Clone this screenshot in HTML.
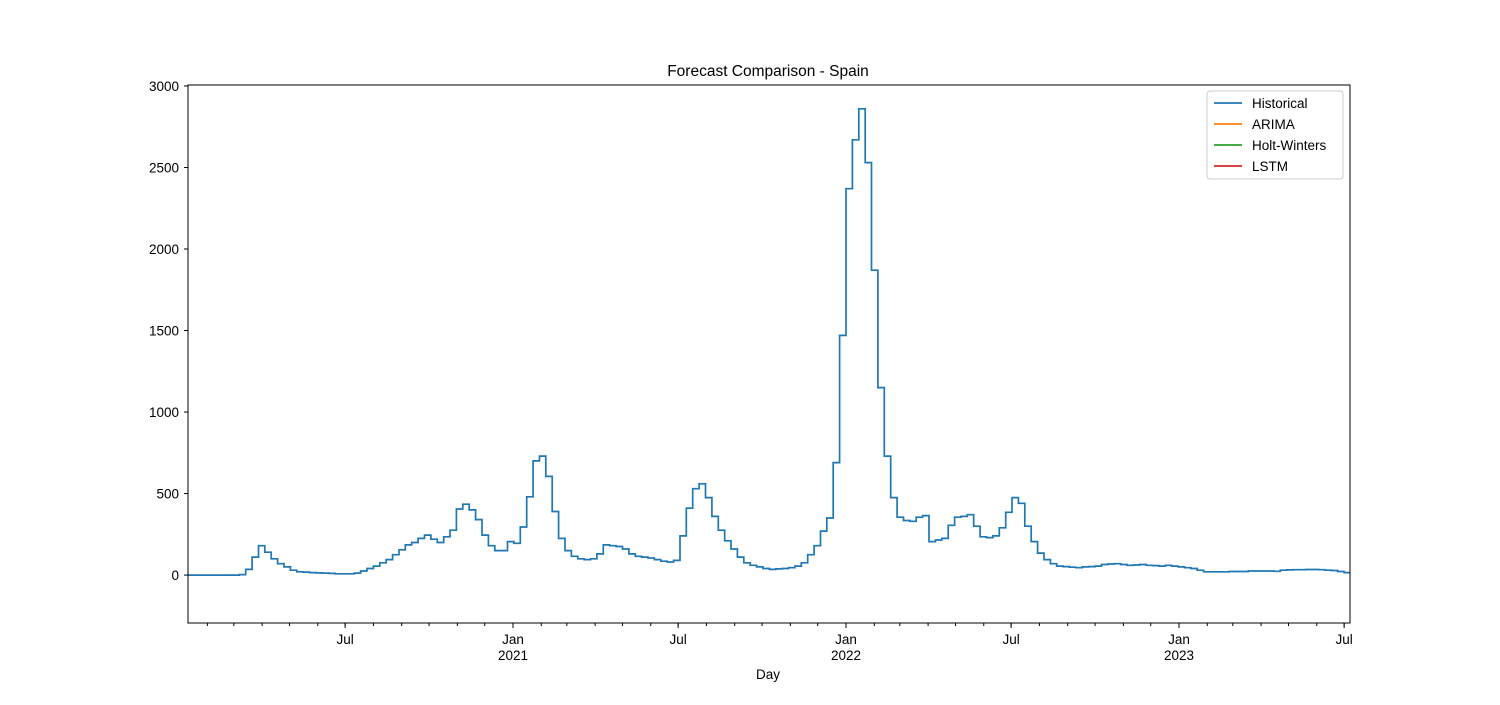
<!DOCTYPE html>
<html><head><meta charset="utf-8"><style>
body{margin:0;background:#fff;}
text{font-family:"Liberation Sans","DejaVu Sans",sans-serif;font-size:13.5px;fill:#000;}
</style></head><body>
<svg id="chart" width="1500" height="700">
<text x="768" y="76" text-anchor="middle" font-size="15.5" style="font-size:15.5px">Forecast Comparison - Spain</text>
<g id="yaxis"></g>
<g id="xaxis"></g>
<path id="hist" fill="none" stroke="#1f77b4" stroke-width="1.7"></path>
<rect x="188" y="85" width="1162" height="538" fill="none" stroke="#000" stroke-width="1"></rect>
<text x="768" y="679" text-anchor="middle">Day</text>
<g>
<rect x="1207" y="91" width="136" height="88" rx="3" fill="#fff" stroke="#ccc"></rect>
<line x1="1214" x2="1242" y1="103" y2="103" stroke="#1f77b4" stroke-width="1.8"></line>
<text x="1252" y="108">Historical</text>
<line x1="1214" x2="1242" y1="124" y2="124" stroke="#ff7f0e" stroke-width="1.8"></line>
<text x="1252" y="129">ARIMA</text>
<line x1="1214" x2="1242" y1="145" y2="145" stroke="#2ca02c" stroke-width="1.8"></line>
<text x="1252" y="150">Holt-Winters</text>
<line x1="1214" x2="1242" y1="166" y2="166" stroke="#d62728" stroke-width="1.8"></line>
<text x="1252" y="171">LSTM</text>
</g>
</svg>
<script>
const yTicks = [0, 500, 1000, 1500, 2000, 2500, 3000];
const xMajorLabels = [["2020-07-01","Jul",""],["2021-01-01","Jan","2021"],["2021-07-01","Jul",""],["2022-01-01","Jan","2022"],["2022-07-01","Jul",""],["2023-01-01","Jan","2023"],["2023-07-01","Jul",""]];
const startDate = "2020-01-11";
const weeklyValues = [0,0,0,0,0,0,0,0,3,35,110,180,140,100,70,50,30,20,18,15,13,12,10,8,8,8,12,25,40,55,75,95,125,155,185,200,225,245,220,200,235,275,405,435,400,340,245,180,150,150,205,195,295,480,700,730,605,390,225,150,115,100,95,100,130,185,180,175,160,130,115,110,105,95,85,80,90,240,410,530,560,475,360,275,210,160,110,75,60,50,40,35,38,40,45,55,75,125,180,270,350,690,1470,2370,2670,2860,2530,1870,1150,730,475,355,335,330,355,365,205,215,225,305,355,360,370,300,235,230,240,290,385,475,440,300,205,135,95,70,55,52,48,45,50,52,55,65,68,70,65,60,62,65,60,58,55,60,55,50,45,40,30,20,20,20,20,22,22,22,25,25,25,25,23,30,32,33,33,34,34,33,30,28,22,15,5];
const NS="http://www.w3.org/2000/svg";
const ref=Date.UTC(2021,0,1), pxDay=333/365;
function dayOf(s){const p=s.split("-");return (Date.UTC(+p[0],+p[1]-1,+p[2])-ref)/86400000;}
function xs(d){return 513+d*pxDay;}
function ys(v){return 623-(v+294)*(538/3300);}
function mk(tag,attrs,parent){const e=document.createElementNS(NS,tag);for(const k in attrs)e.setAttribute(k,attrs[k]);parent.appendChild(e);return e;}
const ya=document.getElementById("yaxis");
yTicks.forEach(v=>{const y=ys(v);
 const l=mk("line",{x1:184,x2:188,y1:y,y2:y,stroke:"#000"},ya);
 
 
 const t=mk("text",{x:179,y:y+5,"text-anchor":"end"},ya);t.textContent=v;
 
 
});
const xa=document.getElementById("xaxis");
for(let yr=2020;yr<=2023;yr++)for(let m=0;m<12;m++){
 const d=(Date.UTC(yr,m,1)-ref)/86400000;const x=xs(d);
 if(x<188||x>1350)continue;
 const l=mk("line",{x1:x,x2:x,y1:623,y2:626,stroke:"#000"},xa);
 
 
}
xMajorLabels.forEach(m=>{const x=xs(dayOf(m[0]));
 const l=mk("line",{x1:x,x2:x,y1:623,y2:628,stroke:"#000"},xa);
 
 
 const t=mk("text",{x:x,y:644,"text-anchor":"middle"},xa);t.textContent=m[1];
 
 
 if(m[2]){const t2=mk("text",{x:x,y:660,"text-anchor":"middle"},xa);t2.textContent=m[2];
 
 }
});
const s0=dayOf(startDate);let d="";
weeklyValues.forEach((v,i)=>{const x0=Math.max(188,xs(s0+7*i)),x1=Math.min(1350,xs(s0+7*i+7)),y=ys(v);
 if(x0>=1350)return;
 d+=(i===0?"M":"L")+x0.toFixed(1)+","+y.toFixed(1)+"L"+x1.toFixed(1)+","+y.toFixed(1);});
document.getElementById("hist").setAttribute("d",d);
</script>
</body></html>
